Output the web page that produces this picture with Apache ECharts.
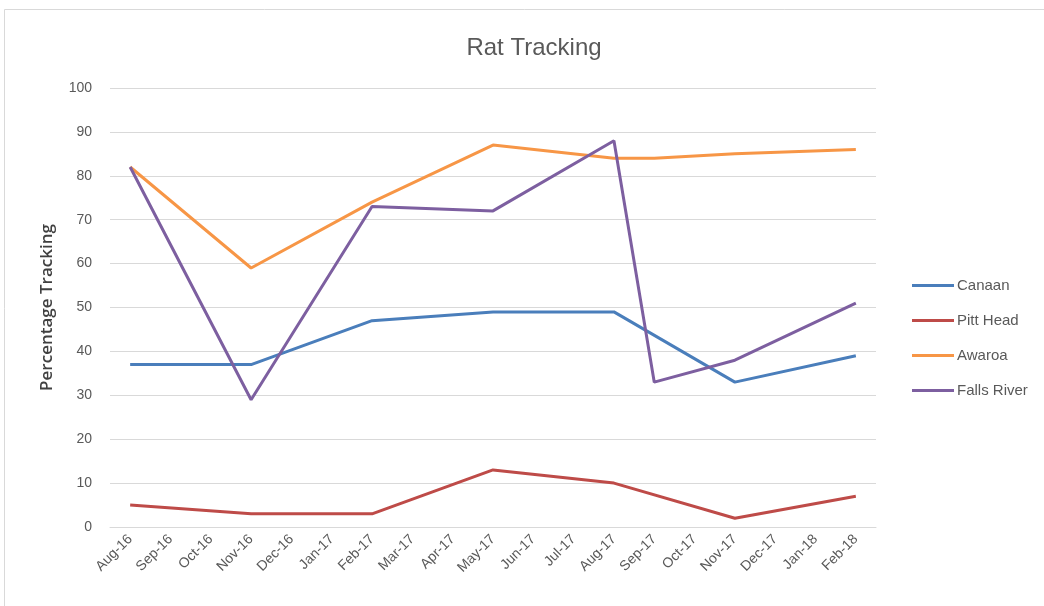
<!DOCTYPE html>
<html><head><meta charset="utf-8">
<script src="https://cdn.jsdelivr.net/npm/echarts@6/dist/echarts.min.js"></script>
<style>html,body{margin:0;padding:0;background:#fff}#c{width:1044px;height:606px}</style>
</head><body><div id="c"></div>
<script>
const months = ['Aug-16','Sep-16','Oct-16','Nov-16','Dec-16','Jan-17','Feb-17','Mar-17','Apr-17','May-17','Jun-17','Jul-17','Aug-17','Sep-17','Oct-17','Nov-17','Dec-17','Jan-18','Feb-18'];
const canaan     = [37,null,null,37,null,null,47,null,null,49,null,null,49,null,null,33,null,null,39];
const pittHead   = [5,null,null,3,null,null,3,null,null,13,null,null,10,null,null,2,null,null,7];
const awaroa     = [82,null,null,59,null,null,74,null,null,87,null,null,84,84,null,85,null,null,86];
const fallsRiver = [82,null,null,29,null,null,73,null,null,72,null,null,88,33,null,38,null,null,51];
const yTicks = [0,10,20,30,40,50,60,70,80,90,100];

const font = '"Liberation Sans",sans-serif';
const chart = echarts.init(document.getElementById('c'));
function s(name, data, color){
  return {name, type:'line', data, connectNulls:true, showSymbol:false, symbol:'none',
    lineStyle:{width:3, color}, itemStyle:{color}, animation:false};
}
chart.setOption({
  animation:false,
  graphic:[{type:'rect', shape:{x:4.5,y:9.5,width:1100,height:700}, style:{fill:null, stroke:'#d9d9d9', lineWidth:1}, silent:true}],
  title:{text:'Rat Tracking', left:529, top:31, textAlign:'center',
    textStyle:{fontFamily:font, fontSize:24, fontWeight:'normal', color:'#595959'}},
  legend:{orient:'vertical', left:907, top:273, itemGap:20, itemWidth:42, itemHeight:3,
    icon:'rect', textStyle:{fontFamily:font, fontSize:15, color:'#595959', padding:[0,0,0,-2]}},
  grid:{left:110, right:168, top:88, bottom:79},
  xAxis:{type:'category', data:months, boundaryGap:true,
    axisLine:{show:true, lineStyle:{color:'#d9d9d9'}}, axisTick:{show:false},
    axisLabel:{rotate:45, fontFamily:font, fontSize:14, color:'#595959', interval:0, margin:10}},
  yAxis:{type:'value', min:yTicks[0], max:yTicks[yTicks.length-1], interval:10,
    name:'Percentage Tracking', nameLocation:'middle', nameGap:54, nameRotate:90,
    nameTextStyle:{fontFamily:'"Open Sans",sans-serif', fontSize:17, fontWeight:600, color:'#404040'},
    axisLine:{show:false}, axisTick:{show:false},
    axisLabel:{fontFamily:font, fontSize:14, color:'#595959', margin:18},
    splitLine:{lineStyle:{color:'#d9d9d9', width:1}}},
  series:[
    s('Canaan', canaan, '#4a7ebb'),
    s('Pitt Head', pittHead, '#be4b48'),
    s('Awaroa', awaroa, '#f79646'),
    s('Falls River', fallsRiver, '#7d5fa0')
  ]
});
</script></body></html>
